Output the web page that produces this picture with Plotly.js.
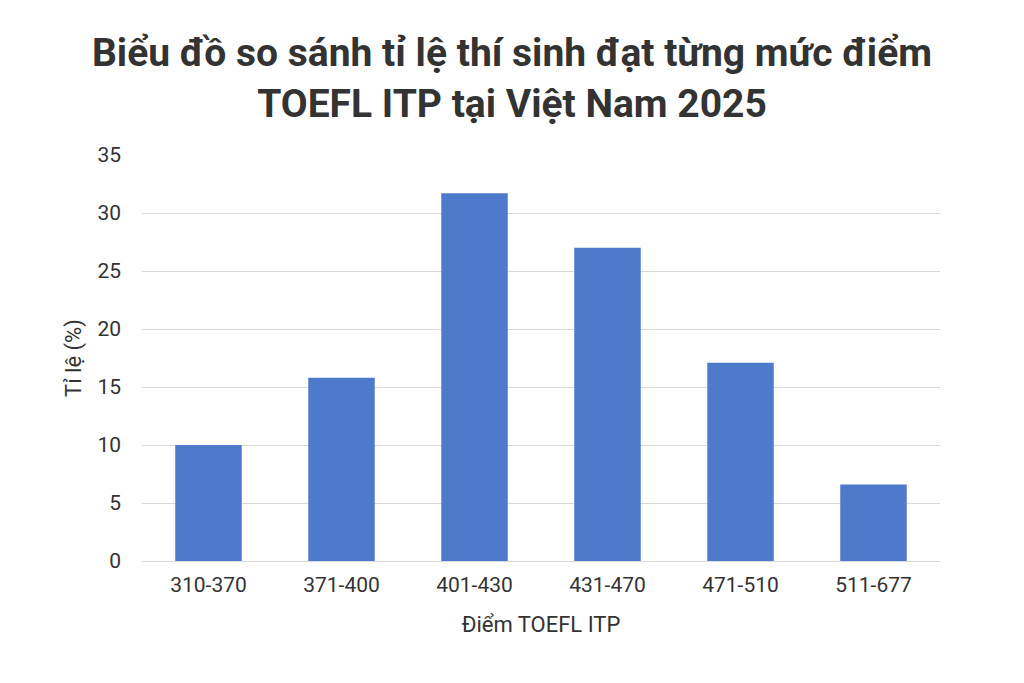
<!DOCTYPE html>
<html>
<head>
<meta charset="utf-8">
<script src="https://cdn.plot.ly/plotly-3.0.1.min.js"></script>
<style>html,body{margin:0;padding:0;background:#fff;}#chart{width:1024px;height:683px;}</style>
</head>
<body>
<div id="chart"></div>
<script>
const categories = ["310-370", "371-400", "401-430", "431-470", "471-510", "511-677"];
const percentages = [10.0, 15.8, 31.7, 27.0, 17.1, 6.6];
const yTicks = [0, 5, 10, 15, 20, 25, 30, 35];

const trace = {
  type: 'bar',
  x: categories,
  y: percentages,
  marker: {color: '#4e7acb'},
  hoverinfo: 'x+y'
};

const layout = {
  width: 1024, height: 683,
  paper_bgcolor: '#ffffff', plot_bgcolor: '#ffffff',
  font: {family: 'Roboto, "Noto Sans", sans-serif', color: '#333333'},
  margin: {l: 142, r: 84, t: 155, b: 122},
  bargap: 0.5,
  showlegend: false,
  title: {
    text: 'Biểu đồ so sánh tỉ lệ thí sinh đạt từng mức điểm<br>TOEFL ITP tại Việt Nam 2025',
    font: {size: 39, color: '#333333', family: 'Roboto, "Noto Sans", sans-serif', weight: 'bold'},
    xref: 'container', x: 0.5, xanchor: 'center',
    yref: 'container', y: 1 - 66/683, yanchor: 'middle'
  },
  xaxis: {
    type: 'category',
    tickfont: {size: 21, color: '#333333'},
    showgrid: false, zeroline: false, showline: false,
    ticks: '', ticklabelstandoff: 9,
    title: {text: 'Điểm TOEFL ITP', font: {size: 22, color: '#333333'}, standoff: 20}
  },
  yaxis: {
    range: [0, 35],
    tickvals: yTicks,
    tickfont: {size: 21, color: '#333333'},
    showgrid: true, gridcolor: '#d9d9d9', gridwidth: 1,
    zeroline: true, zerolinecolor: '#d9d9d9', zerolinewidth: 1,
    showline: false, ticks: '', ticklabelstandoff: 20,
    title: {text: 'Tỉ lệ (%)', font: {size: 22, color: '#333333'}, standoff: 9}
  }
};

Plotly.newPlot('chart', [trace], layout, {displayModeBar: false, staticPlot: true});
</script>
</body>
</html>
